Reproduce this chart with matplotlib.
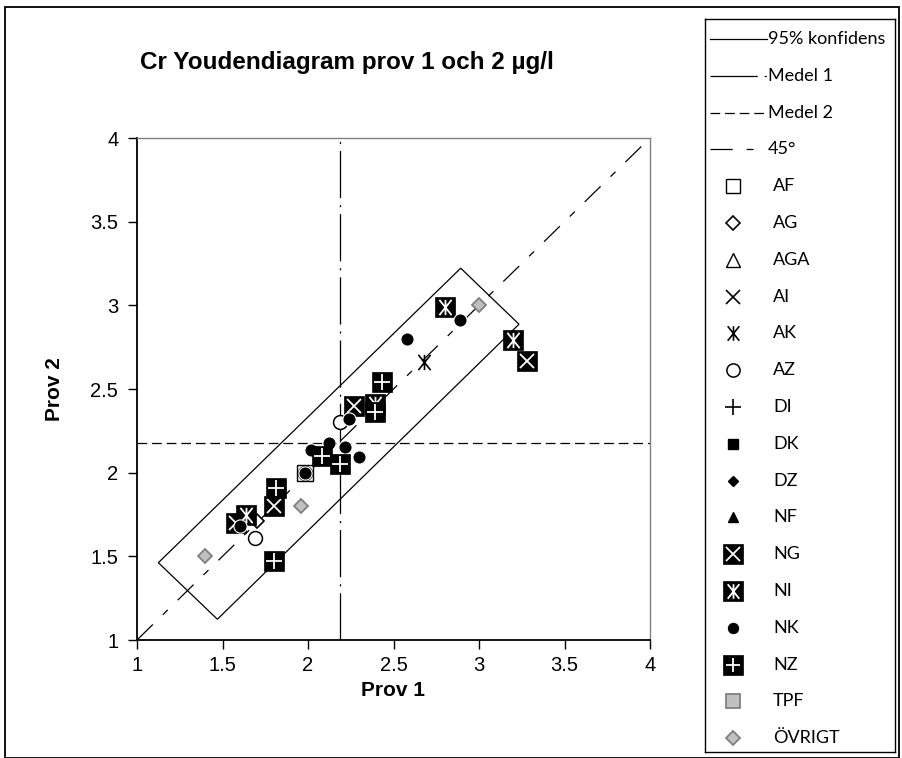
import numpy as np
import matplotlib
matplotlib.use('Agg')
import matplotlib.pyplot as plt
from matplotlib.path import Path
from matplotlib.patches import Rectangle, Polygon

plt.rcParams['lines.scale_dashes'] = False

# laboratory results, prov 1 (x) and prov 2 (y), per group
af_x = [1.98];  af_y = [2.00]
ag_x = [1.70];  ag_y = [1.71]
aga_x = [];     aga_y = []
ai_x = [];      ai_y = []
ak_x = [2.68];  ak_y = [2.66]
az_x = [1.69, 1.98, 2.19];  az_y = [1.61, 2.00, 2.30]
di_x = [];      di_y = []
dk_x = [];      dk_y = []
dz_x = [];      dz_y = []
nf_x = [];      nf_y = []
ng_x = [1.58, 1.80, 2.27, 3.28];  ng_y = [1.70, 1.80, 2.40, 2.67]
ni_x = [1.64, 2.39, 2.80, 3.20];  ni_y = [1.75, 2.41, 2.99, 2.79]
nk_x = [1.60, 1.98, 2.02, 2.125, 2.216, 2.298, 2.24, 2.58, 2.89]
nk_y = [1.68, 2.00, 2.136, 2.176, 2.152, 2.096, 2.32, 2.80, 2.91]
nz_x = [1.80, 1.81, 2.08, 2.19, 2.39, 2.43];  nz_y = [1.47, 1.91, 2.10, 2.05, 2.36, 2.54]
tpf_x = [];     tpf_y = []
ovr_x = [1.40, 1.96, 3.00];  ovr_y = [1.50, 1.80, 3.00]

medel1 = 2.19
medel2 = 2.18
# 95% konfidens area drawn as rectangle (corners)
konf_x = [1.125, 1.47, 3.234, 2.893]
konf_y = [1.462, 1.124, 2.887, 3.222]
diag = [1, 4]

xticks = [1, 1.5, 2, 2.5, 3, 3.5, 4]
yticks = [1, 1.5, 2, 2.5, 3, 3.5, 4]

# asterisk marker: X with vertical bar
star = Path([(-0.8, -1), (0.8, 1), (-0.8, 1), (0.8, -1), (0, -1), (0, 1)],
            [Path.MOVETO, Path.LINETO, Path.MOVETO, Path.LINETO, Path.MOVETO, Path.LINETO])

M1_DASH = (0, (34, 5, 1.5, 5))
M2_DASH = (0, (7, 3.5))
D45_DASH = (0, (16, 10, 5, 10))

styles = {
    'AF': dict(marker='s', ms=11, mfc='white', mec='black', mew=1),
    'AG': dict(marker='D', ms=7, mfc='white', mec='black', mew=1.2),
    'AGA': dict(marker='^', ms=11, mfc='white', mec='black', mew=1),
    'AI': dict(marker='x', ms=10, mec='black', mew=1.2),
    'AK': dict(marker=star, ms=11, mec='black', mew=1.2),
    'AZ': dict(marker='o', ms=10, mfc='white', mec='black', mew=1.1),
    'DI': dict(marker='+', ms=12, mec='black', mew=1.2),
    'DK': dict(marker='s', ms=8, mfc='black', mec='black'),
    'DZ': dict(marker='D', ms=5, mfc='black', mec='black'),
    'NF': dict(marker='^', ms=8, mfc='black', mec='black'),
    'NK': dict(marker='o', ms=9.5, mfc='black', mec='white', mew=0.8),
    'TPF': dict(marker='s', ms=10, mfc='#c0c0c0', mec='#808080', mew=1.3),
    'ÖVRIGT': dict(marker='D', ms=7, mfc='#c0c0c0', mec='#808080', mew=1.3),
}
boxed = {'NG': 'x', 'NI': star, 'NZ': '+'}


def draw(ax, name, xs, ys, size=1.0):
    if len(xs) == 0:
        return
    if name in boxed:
        ax.plot(xs, ys, ls='none', marker='s', ms=15 * size, mfc='black', mec='black', mew=0.5)
        ax.plot(xs, ys, ls='none', marker=boxed[name], ms=(10 if name == 'NG' else 11) * size,
                mec='white', mew=1.3)
    else:
        st = dict(styles[name])
        st['ms'] = st['ms'] * size
        ax.plot(xs, ys, ls='none', **st)


fig = plt.figure(figsize=(9.02, 7.58), dpi=100)
W, H = 902, 758

ax = fig.add_axes([137 / W, 1 - 640 / H, 513 / W, 502 / H])
ax.set_xlim(1, 4)
ax.set_ylim(1, 4)

ax.add_patch(Polygon(np.column_stack([konf_x, konf_y]), closed=True, fill=False,
                     ec='black', lw=0.9))
ax.plot([medel1, medel1], [1, 4], color='black', lw=0.9, linestyle=M1_DASH)
ax.plot([1, 4], [medel2, medel2], color='black', lw=0.9, linestyle=M2_DASH)
ax.plot(diag, diag, color='black', lw=0.9, linestyle=D45_DASH)

series = [('AF', af_x, af_y), ('AG', ag_x, ag_y), ('AGA', aga_x, aga_y), ('AI', ai_x, ai_y),
          ('AK', ak_x, ak_y), ('AZ', az_x, az_y), ('DI', di_x, di_y), ('DK', dk_x, dk_y),
          ('DZ', dz_x, dz_y), ('NF', nf_x, nf_y), ('NG', ng_x, ng_y), ('NI', ni_x, ni_y),
          ('NK', nk_x, nk_y), ('NZ', nz_x, nz_y), ('TPF', tpf_x, tpf_y), ('ÖVRIGT', ovr_x, ovr_y)]
for name, xs, ys in series:
    draw(ax, name, xs, ys)

ax.set_xticks(xticks)
ax.set_yticks(yticks)
ax.set_xticklabels([f'{t:g}' for t in xticks])
ax.set_yticklabels([f'{t:g}' for t in yticks])
ax.tick_params(direction='out', length=6.5, width=1, labelsize=14.5, pad=5)
ax.tick_params(axis='y', pad=7)
for lab in ax.get_xticklabels() + ax.get_yticklabels():
    lab.set_family('Liberation Sans')
for s in ['left', 'bottom']:
    ax.spines[s].set_linewidth(1.3)
for s in ['top', 'right']:
    ax.spines[s].set_color('#808080')
    ax.spines[s].set_linewidth(1)

fig.text(347 / W, 1 - 62 / H, 'Cr Youdendiagram prov 1 och 2 µg/l', ha='center', va='center',
         fontsize=17.5, fontweight='bold', family='Liberation Sans')
fig.text(393 / W, 1 - 690 / H, 'Prov 1', ha='center', va='center', fontsize=15,
         fontweight='bold', family='Liberation Sans')
fig.text(55 / W, 1 - 389 / H, 'Prov 2', ha='center', va='center', fontsize=15,
         fontweight='bold', family='Liberation Sans', rotation=90)

# legend panel
leg = fig.add_axes([705 / W, 1 - 752 / H, 190 / W, 733 / H])
leg.set_xlim(705, 895)
leg.set_ylim(752, 19)
leg.set_xticks([])
leg.set_yticks([])
for s in leg.spines.values():
    s.set_linewidth(1)

row_y = 39 + 36.8 * np.arange(20)
line_items = [('95% konfidens', '-'), ('Medel 1', M1_DASH), ('Medel 2', M2_DASH), ('45°', D45_DASH)]
for i, (lab, ls) in enumerate(line_items):
    leg.plot([710, 767], [row_y[i], row_y[i]], color='black', lw=0.9, linestyle=ls)
    leg.text(768, row_y[i], lab, va='center', ha='left', fontsize=13, family='Lato')
for j, (name, _, _) in enumerate(series):
    y = row_y[4 + j]
    draw(leg, name, [733], [y], size=0.95)
    leg.text(773, y, name, va='center', ha='left', fontsize=13, family='Lato')

# outer chart border
fig.add_artist(Rectangle((5 / W, 0), 894 / W, 1 - 7 / H, transform=fig.transFigure,
                         fill=False, ec='black', lw=1.3))

fig.savefig('out.png', dpi=100)
